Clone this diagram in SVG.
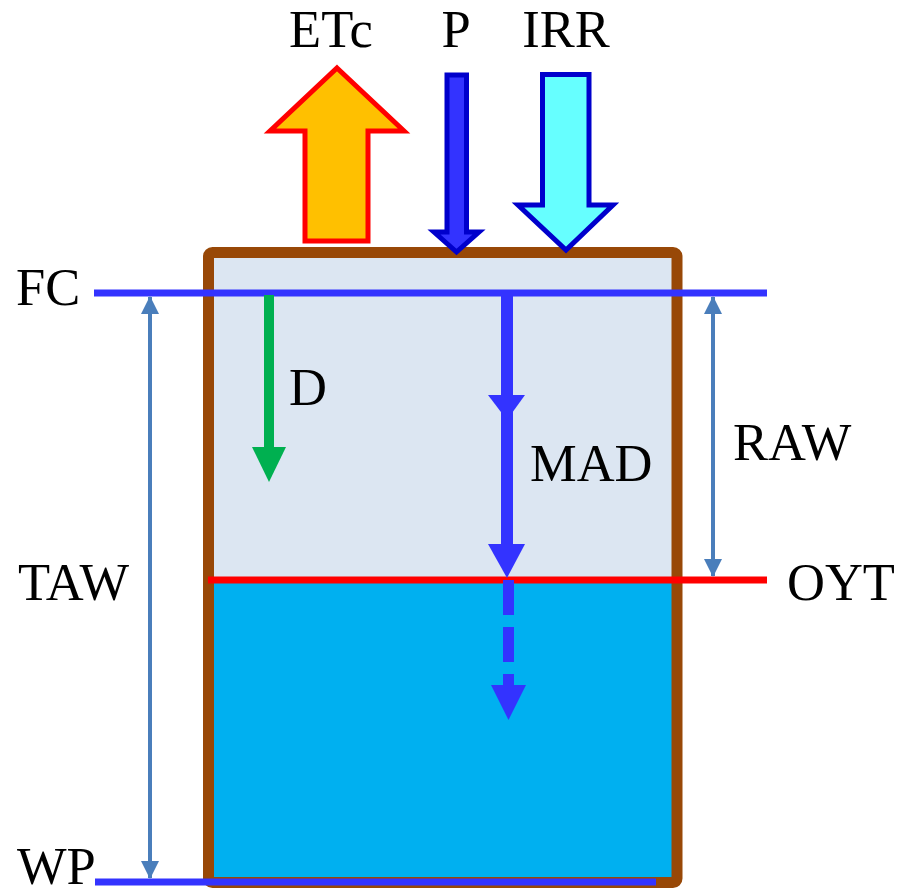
<svg xmlns="http://www.w3.org/2000/svg" width="901" height="896" viewBox="0 0 901 896">
<style>
text{font-family:"Liberation Serif","Times New Roman",serif;font-size:52.5px;fill:#000}
.dim{stroke:#4A7EBB;stroke-width:4;fill:none}
.lvl{stroke-width:7;fill:none}
.mad{fill:#3333FF}
</style>
<defs>
<marker id="dimEnd" markerUnits="userSpaceOnUse" markerWidth="18" markerHeight="18" viewBox="0 0 18 18" refX="17" refY="9" orient="auto-start-reverse">
<path d="M0,0 L18,9 L0,18 Z" fill="#4A7EBB"/>
</marker>
</defs>
<rect width="901" height="896" fill="#fff"/>
<g id="container">
<rect x="214" y="258" width="458" height="322" fill="#DCE6F2"/>
<rect x="214" y="580" width="458" height="297" fill="#00B0F0"/>
<rect x="208.5" y="252.5" width="468.5" height="630" rx="4" fill="none" stroke="#984807" stroke-width="11"/>
</g>
<g id="levels">
<line id="FC-line" class="lvl" x1="94" y1="293" x2="767" y2="293" stroke="#3333FF"/>
<line id="OYT-line" class="lvl" x1="208" y1="580" x2="767" y2="580" stroke="#FF0000"/>
<line id="WP-line" class="lvl" x1="95" y1="882" x2="656" y2="882" stroke="#3333FF"/>
</g>
<g id="connectors">
<line id="TAW-arrow" class="dim" x1="150" y1="297" x2="150" y2="878" marker-start="url(#dimEnd)" marker-end="url(#dimEnd)"/>
<line id="RAW-arrow" class="dim" x1="713" y1="297" x2="713" y2="576" marker-start="url(#dimEnd)" marker-end="url(#dimEnd)"/>
<g id="D-arrow">
<rect x="264" y="295" width="10" height="155" fill="#00B050"/>
<polygon points="252,447 286,447 269,482" fill="#00B050"/>
</g>
<g id="MAD-arrow">
<rect class="mad" x="501" y="293" width="12" height="254"/>
<polygon class="mad" points="488,395 525,395 507,420"/>
<polygon class="mad" points="488,544 525,544 507,578"/>
<line x1="508.5" y1="580" x2="508.5" y2="686" stroke="#3333FF" stroke-width="11" stroke-dasharray="35 12"/>
<polygon class="mad" points="491,685 526,685 508.5,720"/>
</g>
</g>
<g id="ETc">
<polygon points="337,68 404,131 368,131 368,241 305,241 305,131 270,131" fill="#FFC000" stroke="#FF0000" stroke-width="5" stroke-linejoin="miter"/>
<text x="331" y="47" text-anchor="middle">ETc</text>
</g>
<g id="P">
<polygon points="447,75 466.5,75 466.5,232 479,232 456.5,252 434,232 447,232" fill="#3333FF" stroke="#0000CC" stroke-width="5"/>
<text x="456" y="47" text-anchor="middle">P</text>
</g>
<g id="IRR">
<polygon points="542.5,74.5 589,74.5 589,205 613,205 566,250 518,205 542.5,205" fill="#66FFFF" stroke="#0000CC" stroke-width="5"/>
<text x="566" y="47" text-anchor="middle">IRR</text>
</g>
<g id="labels">
<text x="16" y="305">FC</text>
<text x="289" y="405">D</text>
<text x="530" y="481">MAD</text>
<text x="733" y="460">RAW</text>
<text x="787" y="600">OYT</text>
<text x="18" y="600">TAW</text>
<text x="17" y="884">WP</text>
</g>
</svg>
